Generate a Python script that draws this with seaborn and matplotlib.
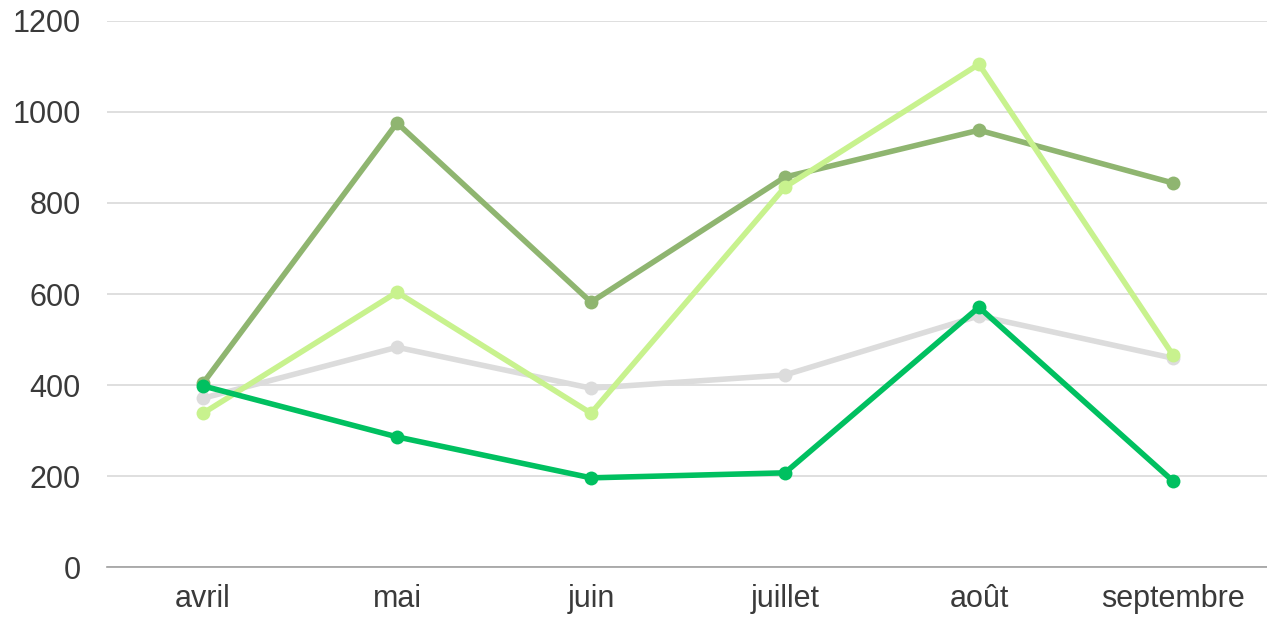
import pandas as pd
import matplotlib.pyplot as plt
import seaborn as sns

# Data
months = ['avril', 'mai', 'juin', 'juillet', 'août', 'septembre']
series_gray = [371, 483, 393, 422, 552, 459]
series_olive = [404, 976, 582, 857, 960, 844]
series_light = [338, 604, 338, 835, 1105, 466]
series_green = [398, 286, 196, 207, 571, 189]

names = ['s1', 's2', 's3', 's4']
colors = ['#dcdcdc', '#8fb570', '#c8f28e', '#00c060']

df = pd.DataFrame({
    'mois': months * 4,
    'x': list(range(len(months))) * 4,
    'valeur': series_gray + series_olive + series_light + series_green,
    'serie': [n for n in names for _ in months],
})

sns.set_style('white')
plt.rcParams['font.family'] = ['Liberation Sans', 'DejaVu Sans']

fig = plt.figure(figsize=(12.67, 6.17), dpi=100)
ax = fig.add_axes([0.0845, 0.081, 0.9155, 0.885])

sns.lineplot(data=df, x='x', y='valeur', hue='serie', palette=colors,
             hue_order=names, marker='o', markersize=10, markeredgewidth=0,
             linewidth=4, legend=False, ax=ax)

ax.set_xlim(-0.495, 5.485)
ax.set_ylim(0, 1200)
ax.set_xticks(range(len(months)))
ax.set_xticklabels(months)
ax.set_yticks(range(0, 1201, 200))
ax.yaxis.grid(True, color='#d9d9d9', linewidth=1.2)
ax.set_axisbelow(True)
ax.set_xlabel('')
ax.set_ylabel('')
ax.tick_params(axis='both', labelsize=22, colors='#3a3a3a', length=0)
ax.tick_params(axis='x', pad=12)
ax.tick_params(axis='y', pad=19)
for s in ['left', 'right', 'top']:
    ax.spines[s].set_visible(False)
ax.spines['bottom'].set_color('#a0a0a0')
ax.spines['bottom'].set_linewidth(1.2)

fig.savefig('out.png', dpi=100)
